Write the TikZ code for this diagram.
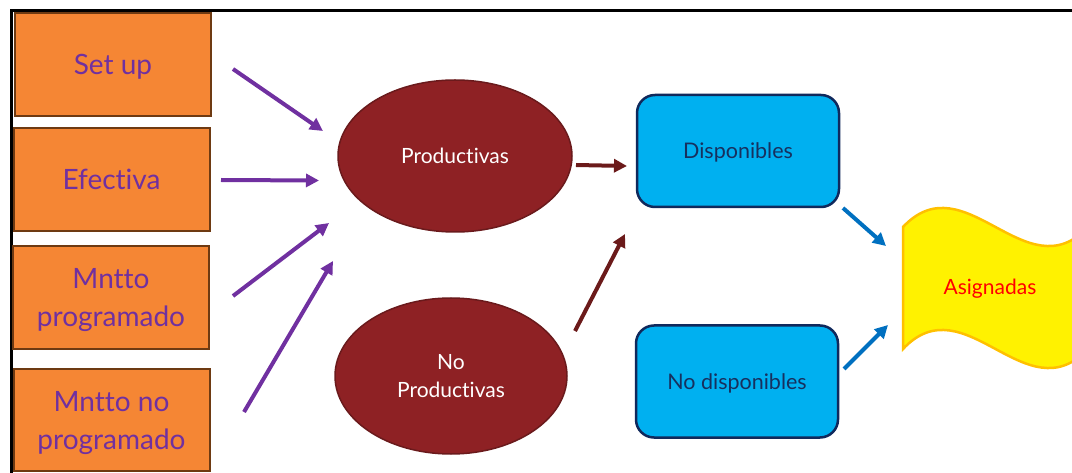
\documentclass[tikz,border=0pt]{standalone}
\usepackage{fontspec}
\setmainfont{Lato}[Ligatures={NoCommon}]
\usetikzlibrary{shapes.geometric,arrows.meta}
\definecolor{boxorange}{HTML}{F58634}
\definecolor{boxbrown}{HTML}{6E3A12}
\definecolor{flowpurple}{HTML}{7030A0}
\definecolor{ovalred}{HTML}{8E2124}
\definecolor{ovaledge}{HTML}{6A1A1C}
\definecolor{darkarrow}{HTML}{6B1A1A}
\definecolor{stateblue}{HTML}{00B0F0}
\definecolor{navyedge}{HTML}{10295C}
\definecolor{navytext}{HTML}{17305E}
\definecolor{bluearrow}{HTML}{0070C0}
\definecolor{waveedge}{HTML}{FFC000}
\tikzset{
  causebox/.style={draw=boxbrown, line width=2pt, fill=boxorange, minimum width=196pt,
    minimum height=103pt, inner sep=0pt, align=center, text=flowpurple, text depth=0pt,
    font=\fontsize{28}{38}\selectfont},
  timeoval/.style={ellipse, draw=ovaledge, line width=1.5pt, fill=ovalred, minimum width=234pt,
    minimum height=152pt, inner sep=0pt, align=center, text=white,
    font=\fontsize{21}{28}\selectfont},
  statebox/.style={draw=navyedge, line width=2.5pt, fill=stateblue, rounded corners=18pt,
    minimum width=202pt, minimum height=112pt, inner sep=0pt, align=center, text=navytext,
    text depth=0pt, font=\fontsize{21.5}{26}\selectfont},
  flow/.style={line width=4pt, -{Triangle[length=13pt,width=13pt]}},
}
\begin{document}
\begin{tikzpicture}[x=1pt,y=-1pt]
\useasboundingbox (0,0) rectangle (1072,473);

% outer frame (top and left edges)
\draw[line width=3pt] (11.5,473) -- (11.5,10.5) -- (1072,10.5);

% source categories
\node[causebox] (setup) at (113,64.5) {Set up};
\node[causebox] (efec) at (111.5,179.5) {Efectiva};
\node[causebox] (mprog) at (111,297.5) {Mntto\\programado};
\node[causebox, minimum height=102pt] (mnoprog) at (111.5,420) {Mntto no\\programado};

% time ovals
\node[timeoval] (prod) at (455,156) {Productivas};
\node[timeoval, minimum height=156pt, minimum width=232pt] (noprod) at (451,376) {No\\Productivas};

% availability boxes
\node[statebox] (disp) at (738,151) {Disponibles};
\node[statebox] (nodisp) at (737,381.5) {No disponibles};

% assigned time banner
\fill[yellow, draw=waveedge, line width=2.5pt]
  (903,227) .. controls (965,161) and (1026,293) .. (1088,227)
  -- (1088,349) .. controls (1026,415) and (965,283) .. (903,349) -- cycle;
\node[text=red, font=\fontsize{21}{24}\selectfont] (asig) at (990,289) {Asignadas};

% arrow end points
\coordinate (a1s) at (233,69);   \coordinate (a1e) at (323,131);
\coordinate (a2s) at (221,180);  \coordinate (a2e) at (319,180.5);
\coordinate (a3s) at (233,296);  \coordinate (a3e) at (329,223);
\coordinate (a4s) at (244,412);  \coordinate (a4e) at (333,261);
\coordinate (r1s) at (576,165);  \coordinate (r1e) at (627,166);
\coordinate (r2s) at (575,331);  \coordinate (r2e) at (625,234);
\coordinate (b1s) at (843,208);  \coordinate (b1e) at (886,246);
\coordinate (b2s) at (844,369);  \coordinate (b2e) at (888,325);

\draw[flow, flowpurple] (a1s) -- (a1e);
\draw[flow, flowpurple] (a2s) -- (a2e);
\draw[flow, flowpurple] (a3s) -- (a3e);
\draw[flow, flowpurple] (a4s) -- (a4e);
\draw[flow, darkarrow] (r1s) -- (r1e);
\draw[flow, darkarrow] (r2s) -- (r2e);
\draw[flow, bluearrow] (b1s) -- (b1e);
\draw[flow, bluearrow] (b2s) -- (b2e);
\end{tikzpicture}
\end{document}
